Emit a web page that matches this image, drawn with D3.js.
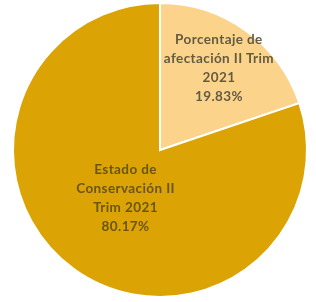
<!DOCTYPE html>
<html>
<head>
<meta charset="utf-8">
<script src="https://cdn.jsdelivr.net/npm/d3@7"></script>
<style>
  html, body { margin: 0; padding: 0; background: #fff; }
  svg { display: block; filter: blur(0.4px); }
</style>
</head>
<body>
<div id="viz"></div>
<script>
// slices, clockwise from 12 o'clock
const labels = [
  ["Porcentaje de", "afectación II Trim", "2021", "19.83%"],
  ["Estado de", "Conservación II", "Trim 2021", "80.17%"]
];
const values = [19.83, 80.17];
const colors = ["#fbd38b", "#dba304"];
const textColors = ["#645b42", "#6a5518"];

const width = 316, height = 302;
const cx = 160, cy = 150, radius = 147;

const svg = d3.select("#viz")
  .append("svg")
    .attr("width", width)
    .attr("height", height)
  .append("g")
    .attr("transform", `translate(${cx},${cy})`);

const pie = d3.pie().sort(null).value(d => d);
const arcs = pie(values);

const arc = d3.arc().innerRadius(0).outerRadius(radius);

svg.selectAll("path")
  .data(arcs)
  .join("path")
    .attr("d", arc)
    .attr("fill", (d, i) => colors[i])
    .attr("stroke", "#fff")
    .attr("stroke-width", 2);

// labels sit closer to the centre for the big slice
const labelRadius = [101, 59];

const lab = svg.selectAll("text")
  .data(arcs)
  .join("text")
    .attr("text-anchor", "middle")
    .attr("font-family", "Lato, 'Open Sans', sans-serif")
    .attr("font-size", 13.5)
    .attr("font-weight", "bold")
    .attr("letter-spacing", 0.4)
    .attr("fill", (d, i) => textColors[i])
    .attr("transform", (d, i) => {
      const r = labelRadius[i];
      const [x, y] = d3.arc().innerRadius(r).outerRadius(r).centroid(d);
      return `translate(${x},${y})`;
    });

lab.selectAll("tspan")
  .data((d, i) => labels[i].map((t, k) => ({t, k, n: labels[i].length})))
  .join("tspan")
    .attr("x", 0)
    .attr("y", (d, k, nodes) => (d.k - (d.n - 1) / 2) * 19 + 5)
    .text(d => d.t);
</script>
</body>
</html>
